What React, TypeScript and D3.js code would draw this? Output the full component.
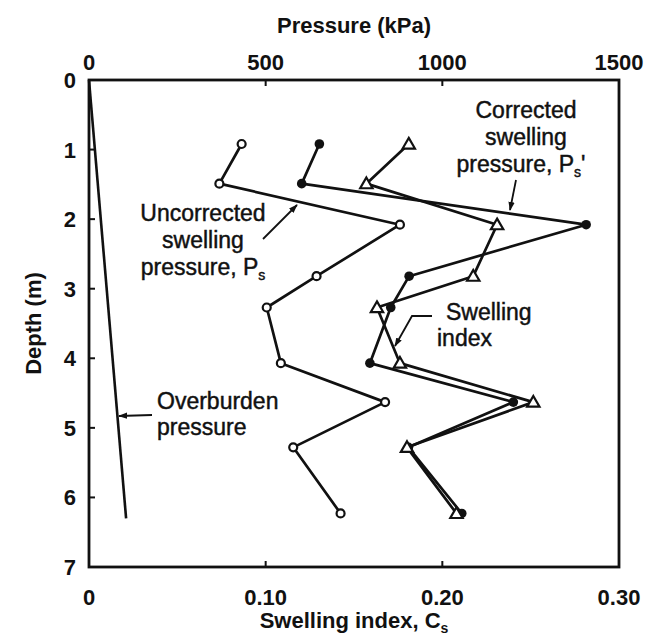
import React from "react";
import * as d3 from "d3";

// Depths (m) of the test points
const depths = [0.92, 1.49, 2.08, 2.82, 3.27, 4.07, 4.63, 5.28, 6.23];
// Uncorrected swelling pressure Ps (kPa) – open circles
const psUncorrected = [432, 369, 880, 644, 503, 543, 838, 578, 712];
// Corrected swelling pressure Ps' (kPa) – filled circles
const psCorrected = [652, 602, 1407, 906, 854, 795, 1201, 904, 1055];
// Swelling index Cs – open triangles
const swellingIndex = [0.181, 0.157, 0.231, 0.2175, 0.163, 0.176, 0.2515, 0.18, 0.208];
// Overburden pressure (kPa) vs depth
const overburdenDepth = [0, 6.3];
const overburdenPressure = [0, 105];

const pressureTicks = [0, 500, 1000, 1500];
const indexTicks = [0, 0.1, 0.2, 0.3];
const indexTickLabels = ["0", "0.10", "0.20", "0.30"];
const depthTicks = [0, 1, 2, 3, 4, 5, 6, 7];

const W = 654;
const H = 635;
const L = 89, R = 619, T = 80, B = 567;
const FONT = "'Liberation Sans', Arial, Helvetica, sans-serif";

export default function App() {
  const xP = d3.scaleLinear().domain([0, 1500]).range([L, R]);
  const xC = d3.scaleLinear().domain([0, 0.3]).range([L, R]);
  const y = d3.scaleLinear().domain([0, 7]).range([T, B]);

  const lineP = d3
    .line<[number, number]>()
    .x((d) => xP(d[0]))
    .y((d) => y(d[1]));
  const lineC = d3
    .line<[number, number]>()
    .x((d) => xC(d[0]))
    .y((d) => y(d[1]));

  const unc: [number, number][] = psUncorrected.map((p, i) => [p, depths[i]]);
  const cor: [number, number][] = psCorrected.map((p, i) => [p, depths[i]]);
  const cs: [number, number][] = swellingIndex.map((c, i) => [c, depths[i]]);
  const ob: [number, number][] = overburdenPressure.map((p, i) => [p, overburdenDepth[i]]);

  const tri = d3.symbol().type(d3.symbolTriangle).size(66)();

  const lw = 2.7;
  const annot = {
    fontFamily: FONT,
    fontSize: 23,
    fill: "#111",
    stroke: "#111",
    strokeWidth: 0.45,
  } as const;

  return (
    <svg
      width={W}
      height={H}
      style={{ position: "absolute", left: 0, top: 0, background: "#fff" }}
    >
      <defs>
        <marker
          id="arr"
          viewBox="0 0 10 10"
          refX="9"
          refY="5"
          markerWidth="9"
          markerHeight="9"
          markerUnits="userSpaceOnUse"
          orient="auto"
        >
          <path d="M0,1.5 L10,5 L0,8.5 Z" fill="#111" />
        </marker>
      </defs>
      <rect x={0} y={0} width={W} height={H} fill="#fff" />

      {/* frame */}
      <rect x={L} y={T} width={R - L} height={B - T} fill="none" stroke="#111" strokeWidth={2.8} />

      {/* inner ticks */}
      {pressureTicks.slice(1, 3).map((t) => (
        <line key={"pt" + t} x1={xP(t)} x2={xP(t)} y1={T} y2={T + 6} stroke="#111" strokeWidth={2} />
      ))}
      {indexTicks.slice(1, 3).map((t) => (
        <line key={"it" + t} x1={xC(t)} x2={xC(t)} y1={B} y2={B - 6} stroke="#111" strokeWidth={2} />
      ))}
      {depthTicks.slice(1, 7).map((t) => (
        <line key={"dt" + t} x1={L} x2={L + 6} y1={y(t)} y2={y(t)} stroke="#111" strokeWidth={2} />
      ))}

      {/* tick labels */}
      <g fontFamily={FONT} fontSize={22} fontWeight="bold" fill="#111">
        {pressureTicks.map((t) => (
          <text key={"pl" + t} x={xP(t)} y={T - 10} textAnchor="middle">
            {t}
          </text>
        ))}
        {indexTicks.map((t, i) => (
          <text key={"il" + t} x={xC(t)} y={B + 38} textAnchor="middle">
            {indexTickLabels[i]}
          </text>
        ))}
        {depthTicks.map((t) => (
          <text key={"dl" + t} x={L - 13} y={y(t) + 8} textAnchor="end">
            {t}
          </text>
        ))}
        <text x={(L + R) / 2} y={33} textAnchor="middle">
          Pressure (kPa)
        </text>
        <text x={(L + R) / 2} y={628} textAnchor="middle">
          Swelling index, C
          <tspan fontSize={14} dy={5}>s</tspan>
        </text>
        <text transform={`translate(41, ${(T + B) / 2}) rotate(-90)`} textAnchor="middle">
          Depth (m)
        </text>
      </g>

      {/* overburden */}
      <path d={lineP(ob) ?? ""} fill="none" stroke="#111" strokeWidth={2.6} />

      {/* series lines */}
      <path d={lineP(unc) ?? ""} fill="none" stroke="#111" strokeWidth={lw} strokeLinejoin="round" />
      <path d={lineP(cor) ?? ""} fill="none" stroke="#111" strokeWidth={lw} strokeLinejoin="round" />
      <path d={lineC(cs) ?? ""} fill="none" stroke="#111" strokeWidth={lw} strokeLinejoin="round" />

      {/* markers */}
      {unc.map((d, i) => (
        <circle key={"u" + i} cx={xP(d[0])} cy={y(d[1])} r={4} fill="#fff" stroke="#111" strokeWidth={2.2} />
      ))}
      {cor.map((d, i) => (
        <circle key={"c" + i} cx={xP(d[0])} cy={y(d[1])} r={4.8} fill="#111" />
      ))}
      {cs.map((d, i) => (
        <path
          key={"t" + i}
          d={tri ?? ""}
          transform={`translate(${xC(d[0])},${y(d[1]) + 1})`}
          fill="#fff"
          stroke="#111"
          strokeWidth={2.2}
        />
      ))}

      {/* annotations */}
      <g {...annot}>
        <text x={526} y={118} textAnchor="middle">Corrected</text>
        <text x={526} y={145} textAnchor="middle">swelling</text>
        <text x={521} y={172} textAnchor="middle">
          pressure, P<tspan fontSize={14} dy={5}>s</tspan>
          <tspan dy={-5}>'</tspan>
        </text>

        <text x={203} y={221} textAnchor="middle">Uncorrected</text>
        <text x={203} y={248} textAnchor="middle">swelling</text>
        <text x={203} y={275} textAnchor="middle">
          pressure, P<tspan fontSize={14} dy={5}>s</tspan>
        </text>

        <text x={446} y={320}>Swelling</text>
        <text x={437} y={346}>index</text>

        <text x={157} y={409}>Overburden</text>
        <text x={157} y={435}>pressure</text>
      </g>

      {/* leader arrows */}
      <g stroke="#111" strokeWidth={1.8} fill="none">
        <line x1={263} y1={239} x2={297} y2={205} markerEnd="url(#arr)" />
        <line x1={516} y1={180} x2={510} y2={210} markerEnd="url(#arr)" />
        <polyline points="432,316 412,316 395,346" markerEnd="url(#arr)" />
        <line x1={152} y1={415} x2={119} y2={416} markerEnd="url(#arr)" />
      </g>
    </svg>
  );
}
